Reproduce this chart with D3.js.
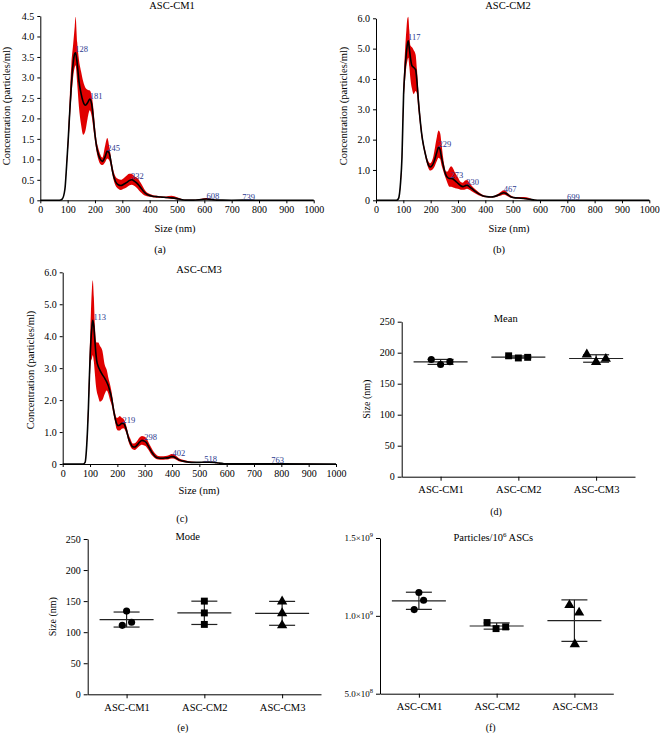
<!DOCTYPE html>
<html><head><meta charset="utf-8">
<script src="https://cdn.jsdelivr.net/npm/d3@7"></script>
<style>
body{margin:0;background:#fff}
svg{display:block}
svg text{font-family:"Liberation Serif","DejaVu Serif",serif !important}
</style>
</head><body>
<svg id="chart" width="660" height="733"></svg>
<script>
// ---------------- DATA ----------------
const sizeTicks = [0,100,200,300,400,500,600,700,800,900,1000];
const cm1YTicks = [0,0.5,1.0,1.5,2.0,2.5,3.0,3.5,4.0,4.5];
const cm23YTicks = [0,1.0,2.0,3.0,4.0,5.0,6.0];

const cm1Size = [0,70,80,90,96,102,108,114,120,126,129,135,141,149,157,165,173,181,188,194,200,206,212,218,227,237,245,252,258,265,275,285,295,305,315,325,335,345,356,366,375,385,395,410,425,440,460,480,500,515,530,560,590,608,625,645,700,739,800,1000];
const cm1Mean = [0,0,0.03,0.27,0.82,1.47,2.2,2.85,3.34,3.58,3.6,3.34,2.93,2.61,2.4,2.32,2.38,2.47,2.35,2.0,1.6,1.31,1.13,1.02,0.95,1.06,1.2,1.15,0.95,0.68,0.46,0.38,0.36,0.39,0.43,0.48,0.5,0.46,0.4,0.32,0.24,0.17,0.13,0.1,0.09,0.08,0.07,0.06,0.04,0.02,0.005,0.005,0.02,0.03,0.02,0.005,0.003,0.005,0.002,0];
const cm1Low  = [0,0,0.03,0.25,0.75,1.3,1.95,2.55,3.0,3.25,3.3,2.85,2.3,1.85,1.6,1.7,2.0,2.2,2.05,1.75,1.45,1.18,1.0,0.9,0.86,0.93,1.02,0.98,0.83,0.58,0.36,0.28,0.25,0.28,0.31,0.36,0.38,0.35,0.28,0.2,0.15,0.11,0.09,0.075,0.065,0.06,0.05,0.035,0.02,0.008,0,0,0.008,0.012,0.008,0,0,0,0,0];
const cm1High = [0,0,0.03,0.3,0.92,1.65,2.55,3.35,3.8,4.25,4.48,3.85,3.45,3.15,2.9,2.75,2.7,2.68,2.55,2.25,1.8,1.45,1.28,1.14,1.04,1.33,1.52,1.32,1.07,0.8,0.58,0.52,0.5,0.54,0.6,0.65,0.64,0.58,0.54,0.44,0.34,0.23,0.17,0.13,0.11,0.1,0.095,0.11,0.075,0.035,0.012,0.012,0.038,0.055,0.038,0.012,0.006,0.009,0.004,0];
const cm1PeakSizes = [128,181,245,332,608,739];
const cm1PeakVals  = [3.6,2.47,1.2,0.5,0.03,0.005];

const cm2Size = [0,75,82,90,95,101,106,111,115,118,122,126,131,138,145,150,155,161,167,174,180,186,192,198,204,210,216,223,229,235,240,245,250,256,262,268,275,282,290,300,310,318,326,333,340,350,362,375,390,405,420,435,450,460,467,475,485,495,510,530,550,565,580,600,699,800,1000];
const cm2Mean = [0,0,0.05,0.6,1.4,3.5,4.3,4.85,5.15,5.26,5.0,4.7,4.45,4.38,4.3,3.9,3.3,2.7,2.2,1.8,1.55,1.32,1.16,1.1,1.13,1.22,1.38,1.6,1.75,1.65,1.4,1.2,1.0,0.83,0.75,0.72,0.72,0.7,0.64,0.56,0.48,0.45,0.48,0.5,0.46,0.39,0.3,0.22,0.15,0.12,0.11,0.13,0.18,0.23,0.25,0.23,0.17,0.11,0.08,0.07,0.05,0.03,0.01,0.003,0.003,0.002,0];
const cm2Low  = [0,0,0.04,0.5,1.2,3.2,3.9,4.4,4.6,4.7,4.4,4.0,3.7,3.5,3.6,3.5,3.0,2.5,2.05,1.7,1.45,1.22,1.05,0.98,1.0,1.05,1.15,1.3,1.4,1.35,1.15,1.0,0.85,0.7,0.55,0.45,0.45,0.42,0.4,0.38,0.35,0.35,0.36,0.38,0.36,0.3,0.23,0.17,0.12,0.1,0.09,0.1,0.14,0.17,0.18,0.17,0.12,0.08,0.06,0.05,0.03,0.01,0,0,0,0,0];
const cm2High = [0,0,0.06,0.7,1.6,3.9,4.9,5.6,6.0,6.05,5.6,5.1,5.05,4.95,4.8,4.3,3.6,2.9,2.35,1.9,1.65,1.42,1.28,1.22,1.28,1.45,1.75,2.1,2.3,2.2,1.85,1.45,1.15,0.95,0.95,1.05,1.12,1.05,0.9,0.75,0.6,0.58,0.65,0.67,0.6,0.48,0.37,0.27,0.18,0.14,0.13,0.16,0.23,0.3,0.33,0.3,0.22,0.15,0.11,0.11,0.1,0.06,0.02,0.005,0.005,0.002,0];
const cm2PeakSizes = [117,229,273,330,467,699];
const cm2PeakVals  = [5.26,1.75,0.72,0.5,0.25,0.005];

const cm3Size = [0,75,82,88,94,98,103,107,110,114,118,121,124,130,136,145,154,161,167,173,179,186,192,197,202,209,216,222,229,235,241,248,256,264,272,281,290,298,305,313,321,330,339,350,363,376,388,398,404,412,425,440,461,480,500,518,535,555,570,590,620,700,763,800,1000];
const cm3Mean = [0,0,0.05,0.6,1.74,2.8,3.83,4.3,4.5,4.3,3.83,3.5,3.26,3.05,2.94,2.8,2.68,2.57,2.45,2.27,2.06,1.7,1.43,1.27,1.2,1.22,1.27,1.27,1.17,1.0,0.8,0.65,0.54,0.53,0.59,0.68,0.74,0.72,0.68,0.57,0.44,0.32,0.23,0.19,0.18,0.19,0.2,0.23,0.23,0.2,0.13,0.09,0.06,0.05,0.05,0.06,0.06,0.05,0.03,0.01,0.003,0.003,0.01,0.003,0];
const cm3Low  = [0,0,0.04,0.5,1.5,2.4,3.2,3.3,3.4,3.2,2.8,2.5,2.3,2.1,1.95,2.0,2.2,2.3,2.2,2.0,1.85,1.55,1.3,1.1,1.05,1.05,1.1,1.12,1.05,0.9,0.7,0.55,0.46,0.44,0.49,0.56,0.6,0.58,0.55,0.45,0.34,0.24,0.17,0.14,0.13,0.14,0.15,0.17,0.17,0.15,0.09,0.06,0.04,0.03,0.03,0.04,0.04,0.03,0.02,0,0,0,0,0,0];
const cm3High = [0,0,0.06,0.7,2.1,3.3,4.7,5.5,5.75,5.2,4.3,3.9,3.8,3.8,3.7,3.55,3.1,2.95,2.7,2.5,2.25,1.85,1.58,1.45,1.45,1.5,1.45,1.42,1.3,1.12,0.92,0.78,0.64,0.65,0.72,0.83,0.88,0.86,0.82,0.7,0.56,0.42,0.32,0.25,0.24,0.25,0.27,0.31,0.31,0.27,0.18,0.13,0.09,0.07,0.06,0.07,0.07,0.06,0.04,0.015,0.005,0.005,0.015,0.005,0];
const cm3PeakSizes = [113,219,298,402,518,763];
const cm3PeakVals  = [4.5,1.27,0.72,0.23,0.06,0.01];

const groups = ["ASC-CM1","ASC-CM2","ASC-CM3"];
const sizeScatterTicks = [0,50,100,150,200,250];
const meanSizes = [[189,181,185.5],[195,191.5,192.5],[197,185,190]];
const modeSizes = [[111,134,116],[150,131,112.5],[149.5,130.5,111]];
const particleTicks = [5e8,1e9,1.5e9];
const particleCounts = [[1.04e9,1.15e9,1.10e9],[0.957e9,0.918e9,0.929e9],[1.069e9,1.021e9,0.818e9]];

// ---------------- LAYOUT ----------------
const svg = d3.select("#chart");
const RED = "#e00000", BLUE = "#2b3990";
const FONT = "Liberation Serif";
const markerShapes = [d3.symbolCircle, d3.symbolSquare, d3.symbolTriangle];
const markerAreas = [40, 48, 46];

function txt(g){ return g.append("text").attr("font-family",FONT).attr("fill","#000"); }

function styleAxis(g, fs){
  g.attr("font-family",FONT);
  g.selectAll("path,line").attr("stroke","#000").attr("stroke-width",1);
  g.selectAll("text").attr("font-size",fs).attr("fill","#000").attr("font-family",FONT);
}

function ntaPanel(box, sizes, mean, low, high, yMax, yTicks, peakS, peakV, title, titleX, titleY, xlabX, xlabY, ylabX, ylabY, letter, letterX, letterY){
  const x = d3.scaleLinear().domain([0,1000]).range([box.l, box.r]);
  const y = d3.scaleLinear().domain([0,yMax]).range([box.b, box.t]);
  const g = svg.append("g");
  const rows = sizes.map((s,i)=>({s, m:mean[i], lo:low[i], hi:high[i]}));
  g.append("path").datum(rows)
    .attr("d", d3.area().x(d=>x(d.s)).y0(d=>y(d.lo)).y1(d=>y(d.hi)).curve(d3.curveMonotoneX))
    .attr("fill", RED);
  g.append("path").datum(rows)
    .attr("d", d3.line().x(d=>x(d.s)).y(d=>y(d.m)).curve(d3.curveMonotoneX))
    .attr("fill","none").attr("stroke","#000").attr("stroke-width",1.6);
  peakS.forEach((s,i)=>{
    txt(g).attr("x", x(s)).attr("y", y(peakV[i]) - 0.5)
      .attr("font-size",8.5).attr("fill",BLUE).text(s);
  });
  const xa = g.append("g").attr("transform",`translate(0,${box.b})`)
    .call(d3.axisBottom(x).tickValues(sizeTicks).tickSize(3).tickSizeOuter(0).tickPadding(3).tickFormat(d3.format("d")));
  styleAxis(xa, 10);
  const ya = g.append("g").attr("transform",`translate(${box.l},0)`)
    .call(d3.axisLeft(y).tickValues(yTicks).tickSize(3).tickSizeOuter(0).tickPadding(3).tickFormat(d=> d===0 ? "0" : d3.format(".1f")(d)));
  styleAxis(ya, 10);
  txt(g).attr("x",titleX).attr("y",titleY).attr("text-anchor","middle").attr("font-size",10.5).text(title);
  txt(g).attr("x",xlabX).attr("y",xlabY).attr("text-anchor","middle").attr("font-size",10.5).text("Size (nm)");
  txt(g).attr("transform",`translate(${ylabX},${ylabY}) rotate(-90)`).attr("text-anchor","middle")
    .attr("dominant-baseline","central").attr("font-size",10.5).text("Concentration (particles/ml)");
  txt(g).attr("x",letterX).attr("y",letterY).attr("text-anchor","middle").attr("font-size",10.5).text(letter);
}

ntaPanel({l:40.3,r:313.7,t:16,b:200.3}, cm1Size, cm1Mean, cm1Low, cm1High, 4.5, cm1YTicks, cm1PeakSizes, cm1PeakVals,
  "ASC-CM1", 172, 8.5, 175, 232, 6.5, 106, "(a)", 160, 253);
ntaPanel({l:376,r:649.3,t:18.3,b:200.3}, cm2Size, cm2Mean, cm2Low, cm2High, 6, cm23YTicks, cm2PeakSizes, cm2PeakVals,
  "ASC-CM2", 508, 8.5, 509, 232, 343, 106, "(b)", 499, 253);
ntaPanel({l:62.7,r:336,t:272.3,b:464}, cm3Size, cm3Mean, cm3Low, cm3High, 6, cm23YTicks, cm3PeakSizes, cm3PeakVals,
  "ASC-CM3", 199, 272.5, 199, 494, 30, 370, "(c)", 182, 522);

function scatterPanel(box, vals, yDomain, yTicks, tickFmt, jitter, title, titleX, titleY, ylab, ylabX, letter, letterX, letterY){
  const x = d3.scalePoint().domain(groups).range([box.l, box.r]).padding(0.5);
  const y = d3.scaleLinear().domain(yDomain).range([box.b, box.t]);
  const g = svg.append("g");
  const xa = g.append("g").attr("transform",`translate(0,${box.b})`)
    .call(d3.axisBottom(x).tickSize(4).tickSizeOuter(0).tickPadding(5));
  styleAxis(xa, 10.5);
  const ya = g.append("g").attr("transform",`translate(${box.l},0)`)
    .call(d3.axisLeft(y).tickValues(yTicks).tickSize(4).tickSizeOuter(0).tickPadding(3).tickFormat(tickFmt ? "" : d3.format("d")));
  styleAxis(ya, 10);
  if (tickFmt) tickFmt(ya);
  groups.forEach((gr,gi)=>{
    const v = vals[gi];
    const m = d3.mean(v), sd = d3.deviation(v);
    const cx = x(gr);
    g.append("line").attr("x1",cx-27).attr("x2",cx+27).attr("y1",y(m)).attr("y2",y(m)).attr("stroke","#222").attr("stroke-width",1.2);
    g.append("line").attr("x1",cx).attr("x2",cx).attr("y1",y(m+sd)).attr("y2",y(m-sd)).attr("stroke","#222").attr("stroke-width",1.2);
    [m+sd, m-sd].forEach(c=>g.append("line").attr("x1",cx-13).attr("x2",cx+13).attr("y1",y(c)).attr("y2",y(c)).attr("stroke","#222").attr("stroke-width",1.2));
    v.forEach((val,i)=>{
      g.append("path").attr("d", d3.symbol().type(markerShapes[gi]).size(markerAreas[gi])())
        .attr("transform",`translate(${cx + jitter[gi][i]},${y(val)})`).attr("fill","#000");
    });
  });
  const t = txt(g).attr("x",titleX).attr("y",titleY).attr("text-anchor","middle").attr("font-size",10.5);
  if (Array.isArray(title)) {
    t.append("tspan").text(title[0]);
    t.append("tspan").attr("font-size",7).attr("dy",-4).text(title[1]);
    t.append("tspan").attr("dy",4).text(title[2]);
  } else t.text(title);
  if (ylab) txt(g).attr("transform",`translate(${ylabX},${(box.t+box.b)/2}) rotate(-90)`).attr("text-anchor","middle")
    .attr("dominant-baseline","central").attr("font-size",10).text(ylab);
  txt(g).attr("x",letterX).attr("y",letterY).attr("text-anchor","middle").attr("font-size",10).text(letter);
}

scatterPanel({l:401.7,r:635,t:321.7,b:476.7}, meanSizes, [0,250], sizeScatterTicks, null,
  [[-9.3,0,9.3],[-9.7,0,9.3],[-9.3,0,9.7]], "Mean", 505.7, 321.5, "Size (nm)", 366, "(d)", 496, 515);
scatterPanel({l:87.7,r:321,t:539,b:694.3}, modeSizes, [0,250], sizeScatterTicks, null,
  [[-4.3,0,5],[0,0,0],[0,0,0]], "Mode", 187.7, 539.5, "Size (nm)", 52.7, "(e)", 182.7, 730.5);
scatterPanel({l:380,r:613.3,t:538,b:693.7}, particleCounts, [5e8,1.5e9], particleTicks,
  (ya)=>{
    ya.selectAll(".tick text").each(function(d){
      const e = Math.floor(Math.log10(d)); const mant = d/Math.pow(10,e);
      const t = d3.select(this).text(null).attr("font-size",9);
      t.append("tspan").text(mant.toFixed(1)+"\u00d710");
      t.append("tspan").attr("font-size",6.5).attr("dy",-4).text(e);
    });
  },
  [[-4.7,0,4.7],[-9.6,-0.6,9],[-5,4.7,0.4]], ["Particles/10","6"," ASCs"], 493.3, 540.5, null, 0, "(f)", 490.7, 730.5);
</script>
</body></html>
